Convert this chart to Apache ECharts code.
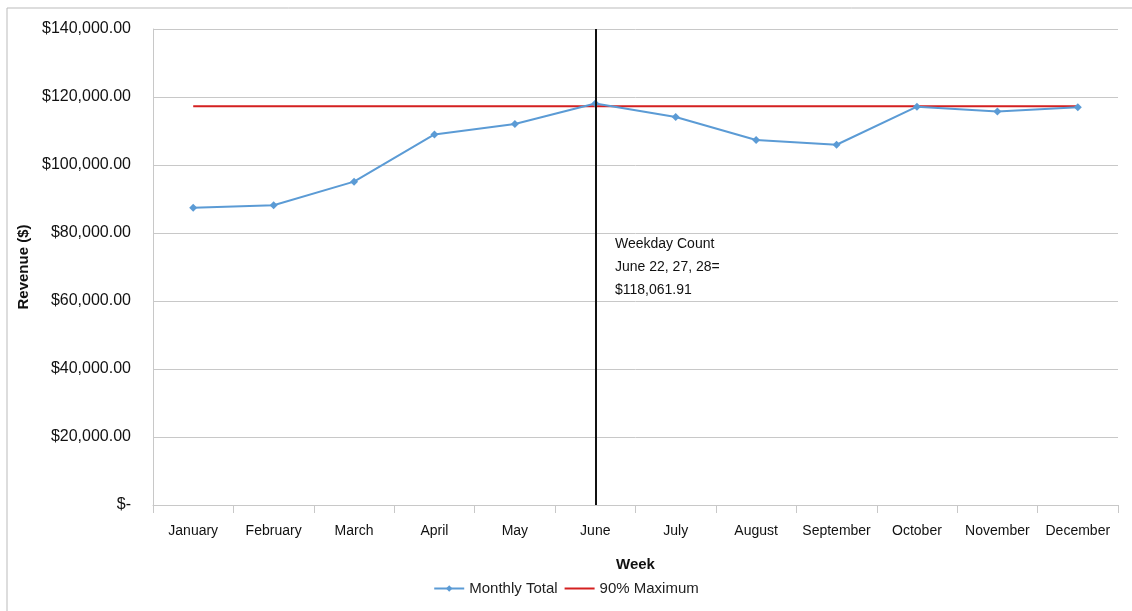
<!DOCTYPE html>
<html>
<head>
<meta charset="utf-8">
<script src="https://cdn.jsdelivr.net/npm/echarts@6/dist/echarts.min.js"></script>
<style>
  html, body { margin: 0; padding: 0; background: #fff; }
  #chart { width: 1132px; height: 611px; }
</style>
</head>
<body>
<div id="chart"></div>
<script>
const months = ['January', 'February', 'March', 'April', 'May', 'June',
  'July', 'August', 'September', 'October', 'November', 'December'];
const monthlyTotal = [87450, 88150, 95100, 109000, 112050, 118061.91,
  114100, 107350, 105950, 117150, 115700, 116950];
const maxLine = [117250, 117250, 117250, 117250, 117250, 117250,
  117250, 117250, 117250, 117250, 117250, 117250];
const markMonth = 'June';
const noteLines = ['Weekday Count', 'June 22, 27, 28=', '$118,061.91'];

const font = "'Liberation Sans', Arial, sans-serif";

function money(v) {
  if (v === 0) return '$-';
  return '$' + v.toLocaleString('en-US', {minimumFractionDigits: 2, maximumFractionDigits: 2});
}

const chart = echarts.init(document.getElementById('chart'));
chart.setOption({
  animation: false,
  textStyle: { fontFamily: font },
  grid: { left: 153, right: 14, top: 29, bottom: 106, containLabel: false },
  legend: {
    bottom: 10,
    left: 'center',
    itemWidth: 30,
    itemHeight: 8,
    itemGap: 6,
    textStyle: { fontSize: 15, color: '#222', fontFamily: font },
    data: [
      { name: 'Monthly Total' },
      { name: '90% Maximum', itemStyle: { opacity: 0 } }
    ]
  },
  graphic: [
    {
      type: 'polyline',
      shape: { points: [[7, 700], [7, 8], [1200, 8]] },
      style: { stroke: '#bbbbbb', lineWidth: 1, fill: null },
      silent: true
    },
    {
      type: 'text',
      left: 615,
      top: 233,
      style: {
        text: noteLines.join('\n'),
        fontSize: 14,
        lineHeight: 23,
        fill: '#111',
        fontFamily: font
      }
    }
  ],
  xAxis: {
    type: 'category',
    data: months,
    boundaryGap: true,
    name: 'Week',
    nameLocation: 'middle',
    nameGap: 52,
    nameTextStyle: { fontSize: 15, fontWeight: 'bold', color: '#111' },
    axisLine: { lineStyle: { color: '#c8c8c8', width: 1 } },
    axisTick: { show: true, length: 8, interval: 0, lineStyle: { color: '#c8c8c8' } },
    axisLabel: { interval: 0, fontSize: 14, color: '#111', margin: 19 }
  },
  yAxis: {
    type: 'value',
    min: 0,
    max: 140000,
    interval: 20000,
    name: 'Revenue ($)',
    nameLocation: 'middle',
    nameGap: 118,
    nameRotate: 90,
    nameTextStyle: { fontSize: 15, fontWeight: 'bold', color: '#111' },
    axisLine: { show: true, lineStyle: { color: '#c8c8c8' } },
    axisTick: { show: false },
    splitLine: { lineStyle: { color: '#c8c8c8', width: 1 } },
    axisLabel: { fontSize: 16, color: '#111', margin: 22, formatter: money }
  },
  series: [
    {
      name: 'Monthly Total',
      type: 'line',
      data: monthlyTotal,
      symbol: 'diamond',
      symbolSize: 8,
      lineStyle: { color: '#5b9bd5', width: 2 },
      itemStyle: { color: '#5b9bd5' },
      z: 3,
      markLine: {
        silent: true,
        symbol: ['none', 'none'],
        label: { show: false },
        lineStyle: { color: '#111', width: 2, type: 'solid' },
        data: [{ xAxis: markMonth }]
      }
    },
    {
      name: '90% Maximum',
      type: 'line',
      data: maxLine,
      symbol: 'none',
      lineStyle: { color: '#d42020', width: 2 },
      itemStyle: { color: '#d42020' },
      z: 2
    }
  ]
});
</script>
</body>
</html>
